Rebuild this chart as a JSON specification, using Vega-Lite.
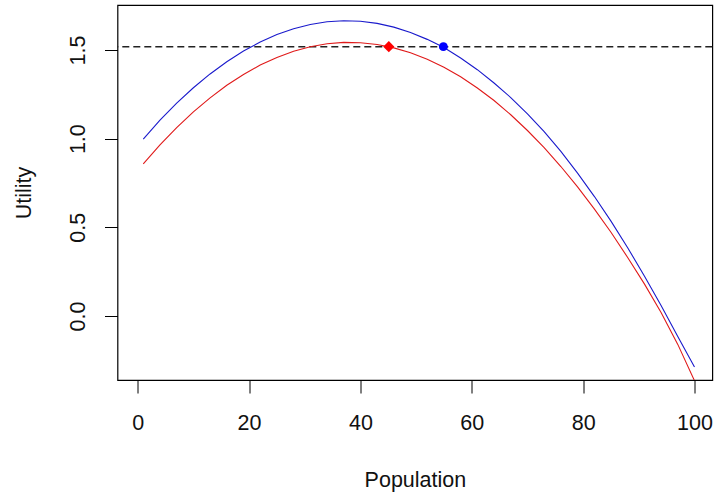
{
  "$schema": "https://vega.github.io/schema/vega-lite/v6.json",
  "autosize": {"type": "none"},
  "padding": {"left": 117.5, "top": 5, "right": 1.7, "bottom": 115},
  "width": 594.8,
  "height": 375,
  "background": "white",
  "config": {
    "view": {"stroke": "black", "strokeWidth": 1.2},
    "font": "Liberation Sans",
    "axis": {
      "grid": false,
      "domain": false,
      "tickColor": "black",
      "tickWidth": 1,
      "tickSize": 13,
      "labelColor": "#111",
      "titleColor": "#111",
      "labelFont": "Liberation Sans",
      "titleFont": "Liberation Sans",
      "labelFontSize": 21.5,
      "titleFontSize": 21.5,
      "titleFontWeight": "normal",
      "labelFlush": false,
      "labelOverlap": false
    }
  },
  "datasets": {
    "curves": [
      {"population": 1, "utility": 0.998, "series": "blue"},
      {"population": 4, "utility": 1.104, "series": "blue"},
      {"population": 7, "utility": 1.200, "series": "blue"},
      {"population": 10, "utility": 1.287, "series": "blue"},
      {"population": 13, "utility": 1.365, "series": "blue"},
      {"population": 16, "utility": 1.434, "series": "blue"},
      {"population": 19, "utility": 1.494, "series": "blue"},
      {"population": 22, "utility": 1.545, "series": "blue"},
      {"population": 25, "utility": 1.587, "series": "blue"},
      {"population": 28, "utility": 1.620, "series": "blue"},
      {"population": 31, "utility": 1.644, "series": "blue"},
      {"population": 34, "utility": 1.659, "series": "blue"},
      {"population": 37, "utility": 1.665, "series": "blue"},
      {"population": 40, "utility": 1.662, "series": "blue"},
      {"population": 43, "utility": 1.650, "series": "blue"},
      {"population": 46, "utility": 1.629, "series": "blue"},
      {"population": 49, "utility": 1.599, "series": "blue"},
      {"population": 52, "utility": 1.560, "series": "blue"},
      {"population": 55, "utility": 1.514, "series": "blue"},
      {"population": 58, "utility": 1.455, "series": "blue"},
      {"population": 61, "utility": 1.389, "series": "blue"},
      {"population": 64, "utility": 1.314, "series": "blue"},
      {"population": 67, "utility": 1.232, "series": "blue"},
      {"population": 70, "utility": 1.140, "series": "blue"},
      {"population": 73, "utility": 1.040, "series": "blue"},
      {"population": 76, "utility": 0.928, "series": "blue"},
      {"population": 79, "utility": 0.806, "series": "blue"},
      {"population": 82, "utility": 0.675, "series": "blue"},
      {"population": 85, "utility": 0.535, "series": "blue"},
      {"population": 88, "utility": 0.385, "series": "blue"},
      {"population": 91, "utility": 0.226, "series": "blue"},
      {"population": 94, "utility": 0.059, "series": "blue"},
      {"population": 97, "utility": -0.115, "series": "blue"},
      {"population": 100, "utility": -0.288, "series": "blue"},
      {"population": 1, "utility": 0.858, "series": "red"},
      {"population": 4, "utility": 0.965, "series": "red"},
      {"population": 7, "utility": 1.062, "series": "red"},
      {"population": 10, "utility": 1.151, "series": "red"},
      {"population": 13, "utility": 1.230, "series": "red"},
      {"population": 16, "utility": 1.301, "series": "red"},
      {"population": 19, "utility": 1.362, "series": "red"},
      {"population": 22, "utility": 1.415, "series": "red"},
      {"population": 25, "utility": 1.458, "series": "red"},
      {"population": 28, "utility": 1.493, "series": "red"},
      {"population": 31, "utility": 1.518, "series": "red"},
      {"population": 34, "utility": 1.535, "series": "red"},
      {"population": 37, "utility": 1.543, "series": "red"},
      {"population": 40, "utility": 1.541, "series": "red"},
      {"population": 43, "utility": 1.531, "series": "red"},
      {"population": 46, "utility": 1.512, "series": "red"},
      {"population": 49, "utility": 1.484, "series": "red"},
      {"population": 52, "utility": 1.448, "series": "red"},
      {"population": 55, "utility": 1.403, "series": "red"},
      {"population": 58, "utility": 1.349, "series": "red"},
      {"population": 61, "utility": 1.286, "series": "red"},
      {"population": 64, "utility": 1.215, "series": "red"},
      {"population": 67, "utility": 1.135, "series": "red"},
      {"population": 70, "utility": 1.046, "series": "red"},
      {"population": 73, "utility": 0.949, "series": "red"},
      {"population": 76, "utility": 0.843, "series": "red"},
      {"population": 79, "utility": 0.728, "series": "red"},
      {"population": 82, "utility": 0.604, "series": "red"},
      {"population": 85, "utility": 0.472, "series": "red"},
      {"population": 88, "utility": 0.330, "series": "red"},
      {"population": 91, "utility": 0.181, "series": "red"},
      {"population": 94, "utility": 0.020, "series": "red"},
      {"population": 97, "utility": -0.160, "series": "red"},
      {"population": 100, "utility": -0.365, "series": "red"}
    ],
    "points": [
      {"population": 45.1, "utility": 1.519, "series": "red"},
      {"population": 54.9, "utility": 1.519, "series": "blue"}
    ],
    "threshold": [
      {"utility": 1.519}
    ]
  },
  "resolve": {"scale": {"color": "independent", "shape": "independent", "size": "independent"}},
  "layer": [
    {
      "data": {"name": "threshold"},
      "mark": {"type": "rule", "color": "#222", "strokeWidth": 1.5, "strokeDash": [7, 4]},
      "encoding": {
        "y": {"field": "utility", "type": "quantitative", "scale": {"domain": [-0.3609, 1.7538], "nice": false, "zero": false}}
      }
    },
    {
      "data": {"name": "curves"},
      "mark": {"type": "line", "strokeWidth": 1.1, "clip": true},
      "encoding": {
        "x": {
          "field": "population", "type": "quantitative",
          "scale": {"domain": [-3.63, 103.2], "nice": false, "zero": false},
          "axis": {"title": "Population", "values": [0, 20, 40, 60, 80, 100], "labelPadding": 19, "labelBaseline": "top", "titleBaseline": "alphabetic", "titleY": 106}
        },
        "y": {
          "field": "utility", "type": "quantitative",
          "scale": {"domain": [-0.3609, 1.7538], "nice": false, "zero": false},
          "axis": {"title": "Utility", "values": [0, 0.5, 1, 1.5], "format": ".1f", "labelAngle": 270, "labelAlign": "center", "labelBaseline": "alphabetic", "labelPadding": 20, "titleBaseline": "alphabetic", "titleX": -87.5}
        },
        "color": {"field": "series", "type": "nominal", "scale": {"domain": ["blue", "red"], "range": ["#1a1acc", "#e01a1a"]}, "legend": null},
        "detail": {"field": "series"}
      }
    },
    {
      "data": {"name": "points"},
      "mark": {"type": "point", "filled": true, "opacity": 1, "clip": true},
      "encoding": {
        "x": {"field": "population", "type": "quantitative"},
        "y": {"field": "utility", "type": "quantitative"},
        "color": {"field": "series", "type": "nominal", "scale": {"domain": ["blue", "red"], "range": ["#0000ff", "#ff0000"]}, "legend": null},
        "shape": {"field": "series", "type": "nominal", "scale": {"domain": ["blue", "red"], "range": ["circle", "diamond"]}, "legend": null},
        "size": {"field": "series", "type": "nominal", "scale": {"domain": ["blue", "red"], "range": [80, 125]}, "legend": null}
      }
    }
  ]
}
